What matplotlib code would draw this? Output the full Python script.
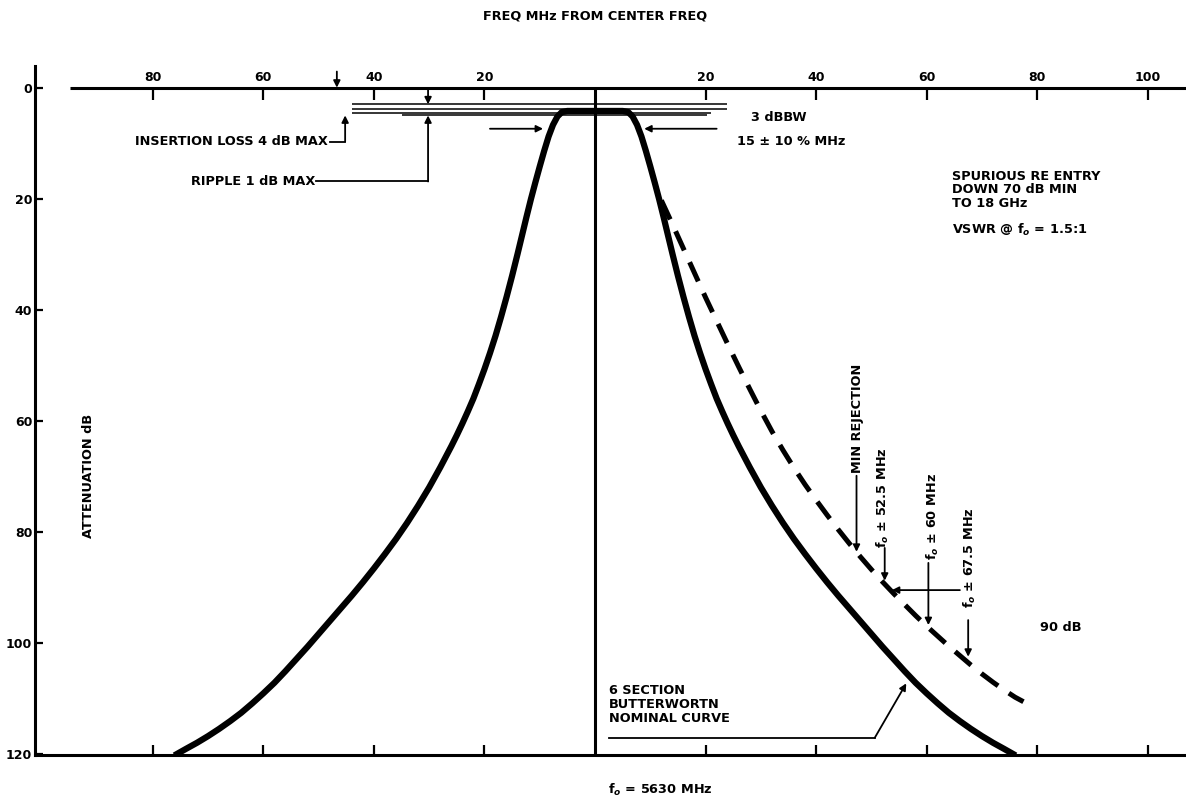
import matplotlib
matplotlib.use("Agg")
import matplotlib.pyplot as plt
import numpy as np

# nominal 6 section butterworth curve (symmetric about fo), MHz from center vs dB
freq_solid = [0, 5.0, 6.0, 6.8, 7.6, 8.4, 9.2, 10.0, 10.8, 11.6, 12.4, 13.2, 14.0, 15.0,
              16.0, 17.0, 18.0, 19.0, 20.0, 21.0, 22.0, 23.0, 24.0, 25.0, 26.0, 28.0,
              30.0, 32.0, 34.0, 36.0, 38.0, 40.0, 42.0, 44.0, 46.0, 48.0, 50.0, 52.0,
              54.0, 56.0, 58.0, 60.0, 62.0, 64.0, 66.0, 68.0, 70.0, 72.0, 74.0, 75.6]
att_solid = [4.2, 4.2, 4.4, 5.2, 6.7, 8.8, 11.4, 14.2, 17.1, 20.1, 23.3, 26.6, 29.9, 33.9,
             37.7, 41.3, 44.7, 47.8, 50.7, 53.4, 56.0, 58.3, 60.5, 62.6, 64.6, 68.4,
             72.0, 75.3, 78.4, 81.3, 84.0, 86.6, 89.1, 91.5, 93.8, 96.1, 98.4, 100.7,
             102.9, 105.1, 107.2, 109.1, 110.9, 112.6, 114.1, 115.5, 116.8, 118.0, 119.1, 120.0]

# min rejection curve (upper side only)
freq_min = [12.0, 14.0, 16.0, 18.0, 20.0, 22.0, 24.0, 26.0, 28.0, 30.0, 32.0, 34.0, 36.0,
            38.0, 40.0, 42.0, 44.0, 46.0, 48.0, 50.0, 52.0, 54.0, 56.0, 58.0, 60.0, 62.0,
            64.0, 66.0, 68.0, 70.0, 72.0, 74.0, 76.0, 77.5]
att_min = [20.3, 24.6, 29.0, 33.4, 37.8, 42.0, 46.2, 50.3, 54.3, 58.2, 61.9, 65.3, 68.5,
           71.5, 74.3, 77.0, 79.6, 82.1, 84.5, 86.8, 89.0, 91.1, 93.1, 95.1, 97.0, 98.8,
           100.6, 102.3, 104.0, 105.6, 107.1, 108.5, 109.8, 110.6]

top_ticks = [-80, -60, -40, -20, 20, 40, 60, 80, 100]
left_ticks = [0, 20, 40, 60, 80, 100, 120]

# ripple / insertion loss reference lines: (dB, from MHz, to MHz)
ref_lines = [(3.0, -44, 23.8), (3.8, -44, 23.8), (4.5, -44, 21.0), (5.0, -35, 20.2)]

plt.rcParams['font.family'] = ['DejaVu Sans']
plt.rcParams['font.weight'] = 'bold'
fs = 9.3

fig = plt.figure(figsize=(11.86, 8.01), dpi=100)
ax = fig.add_axes([35 / 1186, 46 / 801, 1 - 35 / 1186, 689 / 801])
ax.set_xlim(-101.3, 106.9)
ax.set_ylim(120.2, -3.9)

for s in ['top', 'right']:
    ax.spines[s].set_visible(False)
ax.spines['left'].set_linewidth(2.2)
ax.spines['bottom'].set_linewidth(2.2)

ax.set_xticks(top_ticks)
ax.tick_params(axis='x', direction='in', length=7, width=1.6, labelbottom=False)
ax.set_yticks(left_ticks)
ax.set_yticklabels([str(v) for v in left_ticks])
ax.tick_params(axis='y', direction='in', length=6, width=1.6, pad=2, labelsize=9)

# top frequency axis on the 0 dB line
ax.hlines(0, -94.9, 106.9, color='black', lw=2.2)
for t in top_ticks:
    ax.vlines(t, 0, 2.2, color='black', lw=1.6)
    ax.text(t, -0.6, str(abs(t)), ha='center', va='bottom', fontsize=9, fontweight='bold')

# center line
ax.vlines(0, 0, 120, color='black', lw=2.2)

# curves
fs_arr = np.array(freq_solid)
x_solid = np.concatenate([-fs_arr[::-1], fs_arr])
y_solid = np.concatenate([np.array(att_solid)[::-1], att_solid])
ax.plot(x_solid, y_solid, color='black', lw=4.5, solid_joinstyle='round')
ax.plot(freq_min, att_min, color='black', lw=3.6, dashes=(4.2, 2.6))

for db, x0, x1 in ref_lines:
    ax.hlines(db, x0, x1, color='black', lw=1.1)

arw = dict(arrowstyle='-|>', color='black', lw=1.3, mutation_scale=10, shrinkA=0, shrinkB=0)
ln = dict(color='black', lw=1.3)

# insertion loss / ripple callouts
ax.annotate('', xy=(-46.7, 0), xytext=(-46.7, -2.9), arrowprops=arw, annotation_clip=False)
ax.annotate('', xy=(-30.2, 3.0), xytext=(-30.2, 0.3), arrowprops=arw)
ax.text(-48.3, 9.7, 'INSERTION LOSS 4 dB MAX', ha='right', va='center', fontsize=fs)
ax.plot([-48.0, -45.2], [9.7, 9.7], **ln)
ax.annotate('', xy=(-45.2, 5.0), xytext=(-45.2, 9.7), arrowprops=arw)
ax.text(-50.6, 16.9, 'RIPPLE 1 dB MAX', ha='right', va='center', fontsize=fs)
ax.plot([-50.4, -30.2], [16.9, 16.9], **ln)
ax.annotate('', xy=(-30.2, 5.0), xytext=(-30.2, 16.9), arrowprops=arw)

# bandwidth arrows
ax.annotate('', xy=(-9.4, 7.4), xytext=(-19.0, 7.4), arrowprops=arw)
ax.annotate('', xy=(8.9, 7.4), xytext=(22.0, 7.4), arrowprops=arw)
ax.text(28.3, 5.3, '3 dBBW', ha='left', va='center', fontsize=fs)
ax.text(25.6, 9.7, '15 \u00b1 10 % MHz', ha='left', va='center', fontsize=fs)

ax.text(64.5, 14.8, 'SPURIOUS RE ENTRY\nDOWN 70 dB MIN\nTO 18 GHz', ha='left', va='top',
        fontsize=fs, linespacing=1.05)
ax.text(64.5, 25.6, 'VSWR @ f$_o$ = 1.5:1', ha='left', va='center', fontsize=fs)
ax.text(80.5, 97.3, '90 dB', ha='left', va='center', fontsize=fs)

ax.text(-91.7, 70, 'ATTENUATION dB', rotation=90, ha='center', va='center', fontsize=fs)

# rejection points
ax.text(47.4, 59.6, 'MIN REJECTION', rotation=90, ha='center', va='center', fontsize=fs)
ax.annotate('', xy=(47.3, 83.6), xytext=(47.3, 69.9), arrowprops=arw)
ax.text(52.1, 73.9, 'f$_o$ \u00b1 52.5 MHz', rotation=90, ha='center', va='center', fontsize=fs)
ax.annotate('', xy=(52.4, 88.8), xytext=(52.4, 82.9), arrowprops=arw)
ax.text(61.2, 77.2, 'f$_o$ \u00b1 60 MHz', rotation=90, ha='center', va='center', fontsize=fs)
ax.annotate('', xy=(60.3, 96.8), xytext=(60.3, 85.6), arrowprops=arw)
ax.annotate('', xy=(53.7, 90.5), xytext=(66.0, 90.5), arrowprops=arw)
ax.text(67.8, 84.7, 'f$_o$ \u00b1 67.5 MHz', rotation=90, ha='center', va='center', fontsize=fs)
ax.annotate('', xy=(67.5, 102.5), xytext=(67.5, 95.9), arrowprops=arw)

# nominal curve label
ax.text(2.5, 107.4, '6 SECTION\nBUTTERWORTN\nNOMINAL CURVE', ha='left', va='top',
        fontsize=fs, linespacing=1.1)
ax.plot([2.5, 50.6], [117.1, 117.1], **ln)
ax.annotate('', xy=(56.3, 107.3), xytext=(50.6, 117.1), arrowprops=arw)

fig.text(595 / 1186, 1 - 16 / 801, 'FREQ MHz FROM CENTER FREQ', ha='center', va='center',
         fontsize=fs, fontweight='bold')
fig.text(608 / 1186, 1 - 790 / 801, 'f$_o$ = 5630 MHz', ha='left', va='center',
         fontsize=fs, fontweight='bold')

plt.savefig('out.png', dpi=100)
